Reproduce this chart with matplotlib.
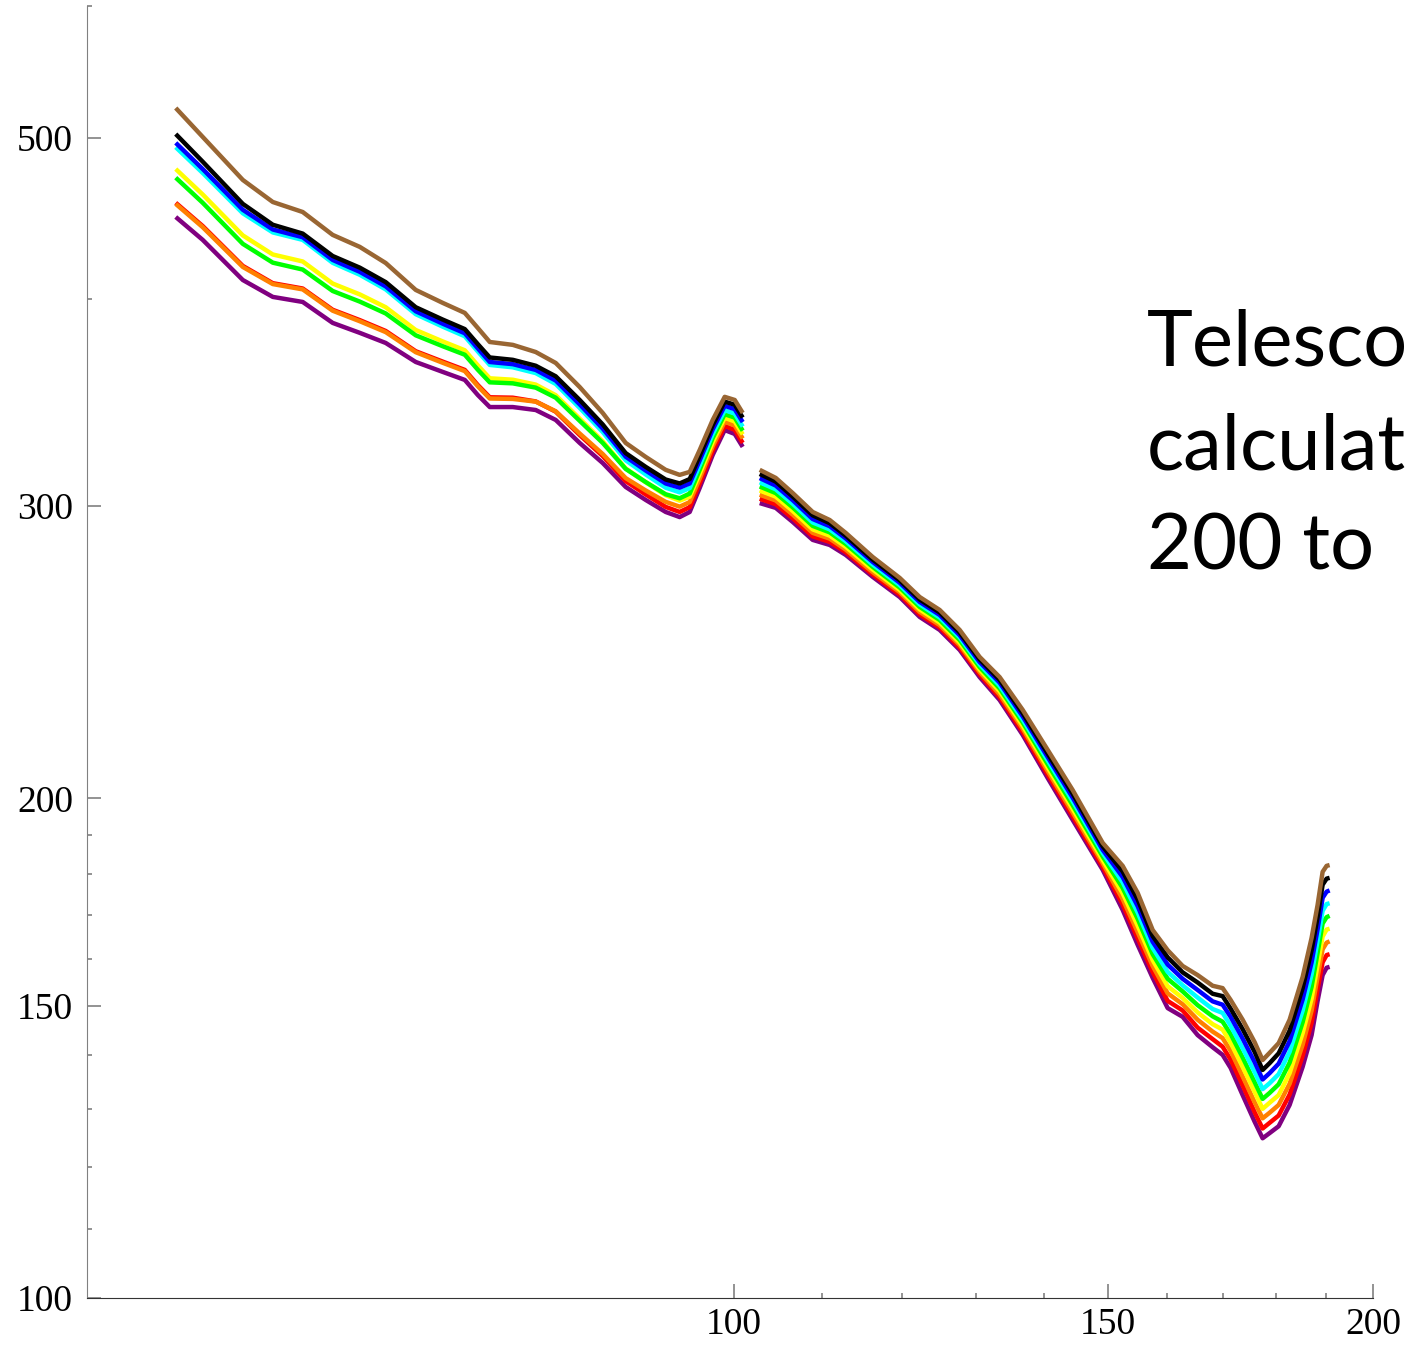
import matplotlib
matplotlib.use('Agg')
import matplotlib.pyplot as plt
from matplotlib.ticker import FixedLocator, NullFormatter, FixedFormatter

# ---- data ----
x_left = [54.61, 56.23, 58.73, 60.67, 62.67, 64.74, 66.67, 68.57, 70.84, 72.94, 74.71, 75.77, 76.76, 78.70,
          80.68, 82.45, 84.62, 86.76, 88.95, 90.90, 92.89, 94.31, 95.34, 96.38, 97.75, 99.03, 100.11, 100.98]
x_right = [102.86, 104.66, 106.61, 108.94, 110.97, 112.91, 116.26, 119.72, 122.34, 125.02, 127.76, 130.56, 133.42,
           136.79, 140.55, 144.41, 149.19, 152.46, 154.96, 157.50, 160.08, 162.70, 165.37, 168.08, 169.91, 171.39,
           173.64, 175.91, 177.44, 178.79, 180.55, 182.71, 185.31, 187.12, 188.34, 189.37, 190.19, 190.81]

brown_left = [521.0, 500.5, 471.5, 457.3, 451.0, 436.9, 429.7, 420.2, 404.8, 397.6, 392.1, 384.0, 376.6, 375.1,
              371.4, 365.8, 353.8, 341.3, 327.4, 321.1, 315.4, 313.2, 314.5, 324.2, 338.0, 349.0, 347.5, 341.3]
black_left = [502.5, 483.6, 456.1, 443.1, 437.7, 424.3, 417.5, 409.2, 395.2, 388.5, 383.4, 375.5, 368.6, 367.4,
              364.4, 359.1, 347.5, 335.9, 322.8, 316.7, 311.2, 309.5, 311.4, 321.6, 335.6, 346.7, 345.2, 339.1]
blue_left = [496.4, 478.7, 452.4, 440.2, 435.5, 422.0, 415.1, 406.8, 393.0, 386.3, 381.2, 373.3, 366.3, 365.2,
             362.3, 357.0, 345.4, 334.0, 321.2, 315.1, 309.5, 307.7, 309.5, 319.6, 333.6, 344.7, 343.1, 337.0]
cyan_left = [493.4, 476.1, 450.2, 438.4, 433.9, 420.3, 413.4, 405.1, 391.4, 384.7, 379.6, 371.7, 364.8, 363.6,
             360.7, 355.3, 343.7, 332.4, 319.6, 313.4, 307.7, 305.7, 307.5, 317.4, 331.5, 342.6, 341.0, 334.9]
green_left = [473.0, 456.8, 431.5, 420.4, 416.4, 404.2, 398.3, 391.8, 380.1, 374.4, 370.0, 362.4, 356.1, 355.6,
              353.5, 348.6, 337.6, 327.4, 315.8, 310.1, 304.9, 303.2, 305.2, 315.4, 329.6, 340.7, 339.1, 333.0]
yellow_left = [478.7, 462.1, 436.6, 425.2, 421.1, 408.4, 402.3, 395.2, 382.9, 376.9, 372.3, 364.6, 358.1, 357.4,
               355.0, 349.8, 338.6, 328.1, 316.0, 310.0, 304.5, 302.2, 303.9, 313.7, 327.8, 339.0, 337.3, 331.3]
orange_left = [456.1, 441.6, 417.9, 408.1, 405.1, 393.3, 387.6, 381.8, 371.3, 365.9, 361.7, 354.2, 348.2, 348.0,
               346.7, 342.1, 331.7, 322.4, 311.8, 306.5, 301.7, 299.7, 301.6, 311.6, 325.9, 337.2, 335.4, 329.4]
red_left = [456.8, 442.3, 418.5, 408.6, 405.6, 393.8, 388.2, 382.4, 371.8, 366.5, 362.3, 354.8, 348.8, 348.6,
            346.8, 341.9, 331.0, 321.5, 310.5, 304.8, 299.6, 297.5, 299.5, 309.5, 323.9, 335.2, 333.4, 327.4]
purple_left = [447.9, 433.9, 410.4, 400.9, 398.1, 386.7, 381.4, 376.1, 366.3, 361.3, 357.3, 349.9, 344.1, 344.1,
               342.7, 338.0, 327.4, 318.4, 308.0, 302.5, 297.5, 295.4, 297.5, 307.6, 322.0, 333.3, 331.5, 325.6]

brown_right = [315.4, 311.9, 305.4, 297.5, 294.2, 289.0, 279.5, 271.5, 264.4, 259.7, 252.6, 243.3, 236.6, 226.1,
               213.9, 202.3, 188.0, 182.1, 175.4, 166.6, 162.0, 158.5, 156.5, 154.2, 153.7, 151.2, 147.1, 142.6,
               139.1, 140.5, 142.4, 147.1, 156.1, 164.8, 172.5, 180.6, 182.1, 182.3]
black_right = [313.6, 310.3, 303.9, 296.1, 292.9, 287.9, 278.5, 270.6, 263.5, 258.8, 251.7, 242.5, 235.7, 225.1,
               212.8, 201.3, 187.1, 180.7, 173.8, 165.2, 160.4, 157.1, 154.9, 152.5, 152.0, 149.4, 145.2, 140.7,
               137.2, 138.5, 140.4, 144.9, 153.7, 162.0, 169.6, 177.4, 178.9, 179.1]
blue_right = [311.8, 308.6, 302.4, 294.6, 291.7, 286.8, 277.6, 269.7, 262.6, 257.9, 250.8, 241.6, 234.8, 224.1,
              211.8, 200.2, 186.2, 179.3, 172.2, 163.9, 158.8, 155.7, 153.3, 150.9, 150.2, 147.7, 143.3, 138.7,
              135.4, 136.6, 138.4, 142.8, 151.3, 159.3, 166.8, 174.2, 175.7, 176.0]
cyan_right = [310.0, 307.0, 300.9, 293.2, 290.4, 285.7, 276.6, 268.8, 261.7, 257.0, 250.0, 240.8, 233.8, 223.1,
              210.8, 199.2, 185.4, 178.0, 170.7, 162.5, 157.2, 154.3, 151.7, 149.3, 148.5, 145.9, 141.4, 136.8,
              133.6, 134.7, 136.4, 140.7, 149.0, 156.7, 164.1, 171.1, 172.7, 172.9]
green_right = [308.2, 305.4, 299.4, 291.8, 289.2, 284.6, 275.7, 267.9, 260.8, 256.1, 249.1, 239.9, 232.9, 222.2,
               209.7, 198.1, 184.5, 176.6, 169.2, 161.1, 155.7, 153.0, 150.1, 147.8, 146.7, 144.2, 139.6, 134.9,
               131.8, 132.9, 134.5, 138.6, 146.6, 154.0, 161.4, 168.1, 169.6, 169.9]
yellow_right = [306.5, 303.9, 297.9, 290.4, 287.9, 283.5, 274.7, 267.0, 259.9, 255.2, 248.2, 239.1, 232.0, 221.2,
                208.7, 197.1, 183.6, 175.3, 167.6, 159.8, 154.1, 151.6, 148.6, 146.2, 145.1, 142.5, 137.8, 133.1,
                130.0, 131.1, 132.5, 136.6, 144.4, 151.5, 158.7, 165.1, 166.7, 166.9]
orange_right = [304.7, 302.3, 296.4, 289.0, 286.7, 282.4, 273.7, 266.2, 259.0, 254.3, 247.4, 238.3, 231.0, 220.3,
                207.7, 196.1, 182.8, 173.9, 166.1, 158.5, 152.6, 150.3, 147.1, 144.7, 143.4, 140.9, 136.0, 131.2,
                128.3, 129.3, 130.7, 134.6, 142.1, 149.0, 156.1, 162.2, 163.7, 164.0]
red_right = [303.0, 300.7, 294.9, 287.6, 285.4, 281.4, 272.8, 265.3, 258.1, 253.5, 246.5, 237.5, 230.1, 219.3,
             206.7, 195.1, 181.9, 172.6, 164.7, 157.2, 151.0, 149.0, 145.5, 143.2, 141.7, 139.2, 134.3, 129.4,
             126.5, 127.5, 128.8, 132.6, 139.9, 146.5, 153.5, 159.3, 160.9, 161.1]
purple_right = [301.2, 299.2, 293.4, 286.2, 284.2, 280.3, 271.9, 264.4, 257.2, 252.6, 245.7, 236.6, 229.2, 218.4,
                205.7, 194.1, 181.1, 171.3, 163.2, 155.9, 149.5, 147.7, 144.0, 141.6, 140.1, 137.6, 132.5, 127.7,
                124.8, 125.7, 126.9, 130.7, 137.8, 144.0, 151.0, 156.5, 158.1, 158.3]

x_ticks = [100, 150, 200]
x_tick_labels = ['100', '150', '200']
x_minor = [110, 120, 130, 140, 160, 170, 180, 190]
y_ticks = [100, 150, 200, 300, 500]
y_tick_labels = ['100', '150', '200', '300', '500']
y_minor = [110, 120, 130, 140, 160, 170, 180, 190, 400, 600]
side_text = ['Telesco', 'calculat', '200 to']

series = [  # drawn bottom-first so brown ends on top
    ('#800080', purple_left, purple_right),
    ('#ff0000', red_left, red_right),
    ('#ff8000', orange_left, orange_right),
    ('#ffff00', yellow_left, yellow_right),
    ('#00ff00', green_left, green_right),
    ('#00ffff', cyan_left, cyan_right),
    ('#0000ff', blue_left, blue_right),
    ('#000000', black_left, black_right),
    ('#996633', brown_left, brown_right),
]

fig = plt.figure(figsize=(14.09, 13.45), dpi=100)
ax = fig.add_axes([87/1409, 47/1345, 1286/1409, 1291.8/1345])
for col, yl, yr in series:
    ax.plot(x_left, yl, color=col, lw=3.2, solid_joinstyle='round', solid_capstyle='butt')
    ax.plot(x_right, yr, color=col, lw=3.2, solid_joinstyle='round', solid_capstyle='butt')
ax.set_xscale('log')
ax.set_yscale('log')
ax.set_xlim(49.6, 200)
ax.set_ylim(100, 600)
for s in ['top', 'right']:
    ax.spines[s].set_visible(False)
ax.spines['left'].set_color('#808080')
ax.spines['bottom'].set_color('#333333')
ax.xaxis.set_major_locator(FixedLocator(x_ticks))
ax.xaxis.set_major_formatter(FixedFormatter(x_tick_labels))
ax.xaxis.set_minor_locator(FixedLocator(x_minor))
ax.xaxis.set_minor_formatter(NullFormatter())
ax.yaxis.set_major_locator(FixedLocator(y_ticks))
ax.yaxis.set_major_formatter(FixedFormatter(y_tick_labels))
ax.yaxis.set_minor_locator(FixedLocator(y_minor))
ax.yaxis.set_minor_formatter(NullFormatter())
ax.tick_params(which='both', direction='in', color='#808080', labelsize=27)
ax.tick_params(which='major', length=10, width=1.2)
ax.tick_params(which='minor', length=3.5, width=1.2)
ax.tick_params(axis='y', pad=10)
ax.tick_params(axis='x', pad=7)
for lab in ax.get_xticklabels() + ax.get_yticklabels():
    lab.set_family('Liberation Serif')
for t, yb in zip(side_text, [366, 470, 570]):
    fig.text(1147/1409, 1 - yb/1345, t, fontsize=56, family='Lato', va='baseline', ha='left')
fig.savefig('out.png', dpi=100)
